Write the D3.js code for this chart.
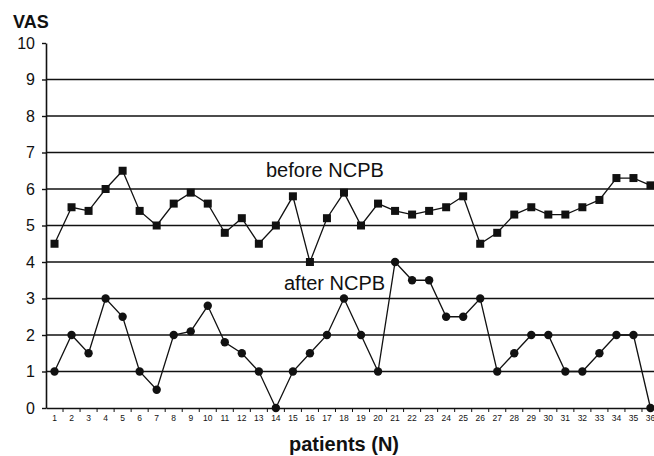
<!DOCTYPE html>
<html>
    <head>
        <script src="https://d3js.org/d3.v7.min.js"></script>
        <style>
            * {
                font-family: 'Liberation Sans', Arial, sans-serif;
            }
            body {
                margin: 0;
                background: #fff;
                overflow: hidden;
            }
            svg {
                display: block;
            }
        </style>
    </head>
    <body>
        <script>
            const patients = d3.range(1, 37).map(String);
            const before = [4.5, 5.5, 5.4, 6.0, 6.5, 5.4, 5.0, 5.6, 5.9, 5.6, 4.8, 5.2, 4.5, 5.0, 5.8, 4.0, 5.2, 5.9,
                5.0, 5.6, 5.4, 5.3, 5.4, 5.5, 5.8, 4.5, 4.8, 5.3, 5.5, 5.3, 5.3, 5.5, 5.7, 6.3, 6.3, 6.1];
            const after = [1, 2, 1.5, 3, 2.5, 1, 0.5, 2, 2.1, 2.8, 1.8, 1.5, 1, 0, 1, 1.5, 2, 3,
                2, 1, 4, 3.5, 3.5, 2.5, 2.5, 3, 1, 1.5, 2, 2, 1, 1, 1.5, 2, 2, 0];
            const yTicks = d3.range(0, 11);

            const width = 654;
            const height = 456;
            const svg = d3.select('body').append('svg').attr('width', width).attr('height', height);

            const x = d3.scaleBand().domain(patients).range([46, 659]);
            const y = d3.scaleLinear().domain([0, 10]).range([408, 43]);
            const cx = (i) => x(patients[i]) + x.bandwidth() / 2;

            // gridlines
            svg.append('g')
                .selectAll('line')
                .data(yTicks.filter((d) => d > 0 && d < 10))
                .enter()
                .append('line')
                .attr('x1', 47)
                .attr('x2', width)
                .attr('y1', (d) => y(d))
                .attr('y2', (d) => y(d))
                .attr('stroke', '#111')
                .attr('stroke-width', 1.6);

            // y axis
            const yAxis = svg.append('g')
                .attr('transform', 'translate(46,0)')
                .call(d3.axisLeft(y).tickValues(yTicks).tickSize(4).tickSizeOuter(0));
            yAxis.select('.domain').attr('stroke', '#111').attr('stroke-width', 1.6);
            yAxis.selectAll('.tick line').attr('stroke', '#111').attr('stroke-width', 1.4);
            yAxis.selectAll('text').attr('font-size', 16).attr('fill', '#111').attr('x', -11);

            // x axis
            const xAxis = svg.append('g')
                .attr('transform', `translate(0,${y(0)})`)
                .call(d3.axisBottom(x).tickSize(0).tickPadding(7));
            xAxis.select('.domain').attr('stroke', '#111').attr('stroke-width', 1.6);
            xAxis.selectAll('text').attr('font-size', 8.5).attr('fill', '#111');
            svg.append('g')
                .selectAll('line')
                .data(patients)
                .enter()
                .append('line')
                .attr('x1', (d) => x(d) + x.bandwidth())
                .attr('x2', (d) => x(d) + x.bandwidth())
                .attr('y1', y(0))
                .attr('y2', y(0) + 4)
                .attr('stroke', '#111')
                .attr('stroke-width', 1);

            const line = d3.line().x((d, i) => cx(i)).y((d) => y(d));

            svg.append('path').datum(before).attr('d', line).attr('fill', 'none').attr('stroke', '#111').attr('stroke-width', 1.3);
            svg.append('path').datum(after).attr('d', line).attr('fill', 'none').attr('stroke', '#111').attr('stroke-width', 1.3);

            svg.append('g')
                .selectAll('rect')
                .data(before)
                .enter()
                .append('rect')
                .attr('x', (d, i) => cx(i) - 4)
                .attr('y', (d) => y(d) - 4)
                .attr('width', 8)
                .attr('height', 8)
                .attr('fill', '#111');

            svg.append('g')
                .selectAll('circle')
                .data(after)
                .enter()
                .append('circle')
                .attr('cx', (d, i) => cx(i))
                .attr('cy', (d) => y(d))
                .attr('r', 4.2)
                .attr('fill', '#111');

            // labels
            svg.append('text').attr('x', 13).attr('y', 28).attr('font-size', 18).attr('font-weight', 'bold').attr('fill', '#111').text('VAS');
            svg.append('text').attr('x', 344).attr('y', 451).attr('text-anchor', 'middle').attr('font-size', 20).attr('font-weight', 'bold').attr('fill', '#111').text('patients (N)');
            svg.append('text').attr('x', 266).attr('y', 177).attr('font-size', 20).attr('fill', '#111').text('before NCPB');
            svg.append('text').attr('x', 284).attr('y', 290).attr('font-size', 20).attr('fill', '#111').text('after NCPB');
        </script>
    </body>
</html>
